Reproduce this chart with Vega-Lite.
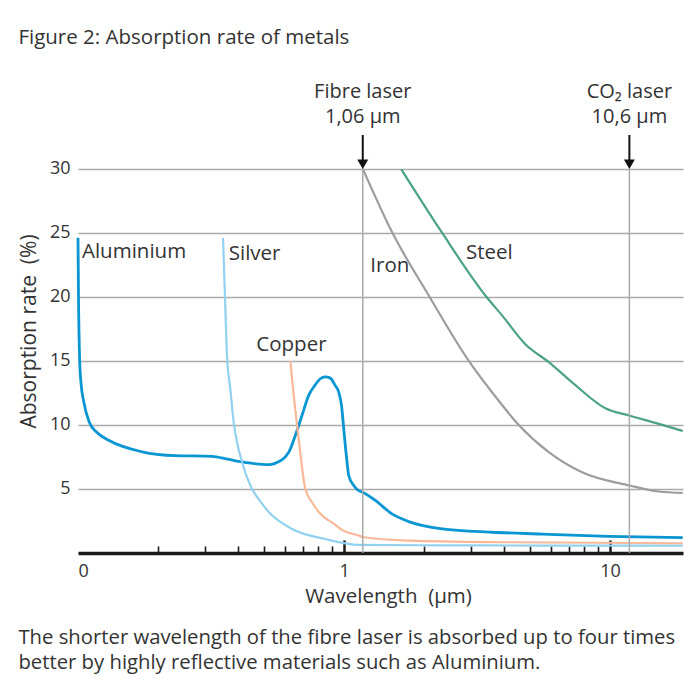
{
  "$schema": "https://vega.github.io/schema/vega-lite/v6.json",
  "background": "white",
  "padding": {"left": 18, "top": 27, "right": 5, "bottom": 5},
  "title": {"text": "Figure 2: Absorption rate of metals", "anchor": "start", "fontSize": 20.5, "fontWeight": "normal", "font": "Open Sans", "color": "#333333", "offset": 31},
  "datasets": {
    "curves": [
      {"series": "Aluminium", "lambda": 0.1, "value": 24.6},
      {"series": "Aluminium", "lambda": 0.10043, "value": 20.0},
      {"series": "Aluminium", "lambda": 0.1015, "value": 14.9},
      {"series": "Aluminium", "lambda": 0.1026, "value": 13.3},
      {"series": "Aluminium", "lambda": 0.1051, "value": 11.8},
      {"series": "Aluminium", "lambda": 0.1103, "value": 10.2},
      {"series": "Aluminium", "lambda": 0.1179, "value": 9.4},
      {"series": "Aluminium", "lambda": 0.1304, "value": 8.8},
      {"series": "Aluminium", "lambda": 0.174, "value": 7.9},
      {"series": "Aluminium", "lambda": 0.2321, "value": 7.6},
      {"series": "Aluminium", "lambda": 0.319, "value": 7.55},
      {"series": "Aluminium", "lambda": 0.3686, "value": 7.3},
      {"series": "Aluminium", "lambda": 0.4383, "value": 7.03},
      {"series": "Aluminium", "lambda": 0.521, "value": 6.9},
      {"series": "Aluminium", "lambda": 0.5502, "value": 7.0},
      {"series": "Aluminium", "lambda": 0.6197, "value": 7.87},
      {"series": "Aluminium", "lambda": 0.656, "value": 9.17},
      {"series": "Aluminium", "lambda": 0.6952, "value": 10.75},
      {"series": "Aluminium", "lambda": 0.7366, "value": 12.3},
      {"series": "Aluminium", "lambda": 0.7779, "value": 13.1},
      {"series": "Aluminium", "lambda": 0.8144, "value": 13.6},
      {"series": "Aluminium", "lambda": 0.8483, "value": 13.75},
      {"series": "Aluminium", "lambda": 0.8881, "value": 13.65},
      {"series": "Aluminium", "lambda": 0.9251, "value": 13.1},
      {"series": "Aluminium", "lambda": 0.9552, "value": 12.55},
      {"series": "Aluminium", "lambda": 0.9786, "value": 11.5},
      {"series": "Aluminium", "lambda": 0.9974, "value": 9.7},
      {"series": "Aluminium", "lambda": 1.0131, "value": 8.2},
      {"series": "Aluminium", "lambda": 1.0263, "value": 7.1},
      {"series": "Aluminium", "lambda": 1.0415, "value": 6.05},
      {"series": "Aluminium", "lambda": 1.0876, "value": 5.27},
      {"series": "Aluminium", "lambda": 1.1288, "value": 4.9},
      {"series": "Aluminium", "lambda": 1.1757, "value": 4.74},
      {"series": "Aluminium", "lambda": 1.3113, "value": 4.1},
      {"series": "Aluminium", "lambda": 1.5149, "value": 3.05},
      {"series": "Aluminium", "lambda": 1.7509, "value": 2.45},
      {"series": "Aluminium", "lambda": 2.336, "value": 1.88},
      {"series": "Aluminium", "lambda": 3.6003, "value": 1.62},
      {"series": "Aluminium", "lambda": 5.5525, "value": 1.48},
      {"series": "Aluminium", "lambda": 9.888, "value": 1.3},
      {"series": "Aluminium", "lambda": 18.76, "value": 1.2},
      {"series": "Silver", "lambda": 0.3509, "value": 24.6},
      {"series": "Silver", "lambda": 0.3561, "value": 20.6},
      {"series": "Silver", "lambda": 0.3633, "value": 15.4},
      {"series": "Silver", "lambda": 0.3738, "value": 12.8},
      {"series": "Silver", "lambda": 0.3848, "value": 10.2},
      {"series": "Silver", "lambda": 0.3961, "value": 8.65},
      {"series": "Silver", "lambda": 0.4136, "value": 7.1},
      {"series": "Silver", "lambda": 0.451, "value": 5.0},
      {"series": "Silver", "lambda": 0.4778, "value": 4.2},
      {"series": "Silver", "lambda": 0.521, "value": 3.2},
      {"series": "Silver", "lambda": 0.6374, "value": 1.875},
      {"series": "Silver", "lambda": 0.8505, "value": 1.09},
      {"series": "Silver", "lambda": 1.1356, "value": 0.63},
      {"series": "Silver", "lambda": 2.336, "value": 0.6},
      {"series": "Silver", "lambda": 5.5525, "value": 0.58},
      {"series": "Silver", "lambda": 18.76, "value": 0.58},
      {"series": "Copper", "lambda": 0.6283, "value": 15.0},
      {"series": "Copper", "lambda": 0.647, "value": 12.3},
      {"series": "Copper", "lambda": 0.6755, "value": 8.9},
      {"series": "Copper", "lambda": 0.7154, "value": 5.0},
      {"series": "Copper", "lambda": 0.758, "value": 3.96},
      {"series": "Copper", "lambda": 0.8034, "value": 3.2},
      {"series": "Copper", "lambda": 0.9275, "value": 2.2},
      {"series": "Copper", "lambda": 0.9828, "value": 1.8},
      {"series": "Copper", "lambda": 1.1356, "value": 1.36},
      {"series": "Copper", "lambda": 1.1757, "value": 1.25},
      {"series": "Copper", "lambda": 1.7509, "value": 0.97},
      {"series": "Copper", "lambda": 4.1609, "value": 0.84},
      {"series": "Copper", "lambda": 18.76, "value": 0.76},
      {"series": "Iron", "lambda": 1.1757, "value": 30.0},
      {"series": "Iron", "lambda": 1.5149, "value": 25.05},
      {"series": "Iron", "lambda": 2.0817, "value": 20.1},
      {"series": "Iron", "lambda": 2.9428, "value": 15.0},
      {"series": "Iron", "lambda": 3.6003, "value": 12.55},
      {"series": "Iron", "lambda": 4.5362, "value": 10.0},
      {"series": "Iron", "lambda": 5.8838, "value": 7.87},
      {"series": "Iron", "lambda": 7.8476, "value": 6.3},
      {"series": "Iron", "lambda": 11.818, "value": 5.27},
      {"series": "Iron", "lambda": 15.246, "value": 4.8},
      {"series": "Iron", "lambda": 18.76, "value": 4.69},
      {"series": "Steel", "lambda": 1.6421, "value": 29.95},
      {"series": "Steel", "lambda": 2.336, "value": 25.0},
      {"series": "Steel", "lambda": 3.3978, "value": 20.1},
      {"series": "Steel", "lambda": 3.9264, "value": 18.55},
      {"series": "Steel", "lambda": 4.8031, "value": 16.3},
      {"series": "Steel", "lambda": 5.8838, "value": 14.9},
      {"series": "Steel", "lambda": 7.4051, "value": 13.1},
      {"series": "Steel", "lambda": 9.6015, "value": 11.3},
      {"series": "Steel", "lambda": 11.818, "value": 10.73},
      {"series": "Steel", "lambda": 15.246, "value": 10.08},
      {"series": "Steel", "lambda": 18.76, "value": 9.53}
    ],
    "labels": [
      {"label": "Aluminium", "lambda": 0.1035, "value": 23.49},
      {"label": "Silver", "lambda": 0.3686, "value": 23.36},
      {"label": "Copper", "lambda": 0.4681, "value": 16.25},
      {"label": "Iron", "lambda": 1.2559, "value": 22.4},
      {"label": "Steel", "lambda": 2.8747, "value": 23.44}
    ],
    "lasers": [
      {"name": "Fibre laser", "sub": "1,06 µm", "lambda": 1.176},
      {"name": "CO₂ laser", "sub": "10,6 µm", "lambda": 11.82}
    ]
  },
  "vconcat": [
    {
      "width": 605,
      "height": 474,
      "title": {
        "text": ["The shorter wavelength of the fibre laser is absorbed up to four times", "better by highly reflective materials such as Aluminium."],
        "orient": "bottom", "anchor": "start", "fontSize": 20.3, "fontWeight": "normal",
        "font": "Open Sans", "color": "#333333", "lineHeight": 25.5, "offset": 21
      },
      "layer": [
        {
          "data": {"name": "curves"},
          "mark": {"type": "line", "interpolate": "monotone"},
          "encoding": {
            "x": {
              "field": "lambda", "type": "quantitative",
              "scale": {"type": "log", "domain": [0.1, 18.8], "nice": false},
              "axis": {
                "values": [0.1, 0.2, 0.3, 0.4, 0.5, 0.6, 0.7, 0.8, 0.9, 1, 2, 3, 4, 5, 6, 7, 8, 9, 10],
                "labelExpr": "datum.value == 0.1 ? '0' : (datum.value == 1 ? '1' : (datum.value == 10 ? '10' : ''))",
                "labelAlign": {"condition": {"test": "datum.value == 0.1", "value": "left"}, "value": "center"},
                "tickSize": {"condition": {"test": "datum.value == 0.1 || datum.value == 1 || datum.value == 10", "value": -13}, "value": -7},
                "tickWidth": {"condition": {"test": "datum.value == 1 || datum.value == 10", "value": 2.5}, "value": 1.6},
                "tickOpacity": {"condition": {"test": "datum.value == 0.1", "value": 0}, "value": 1},
                "tickColor": "#1a1a1a",
                "domainColor": "#1a1a1a",
                "domainWidth": 3.5,
                "grid": false,
                "labelFontSize": 18,
                "labelPadding": 22,
                "labelColor": "#333333",
                "labelFlush": false,
                "labelOverlap": false,
                "title": "Wavelength \u00a0(µm)",
                "titleFontSize": 20.5,
                "titleFontWeight": "normal",
                "titleColor": "#333333",
                "titlePadding": 0,
                "titleX": 310
              }
            },
            "y": {
              "field": "value", "type": "quantitative",
              "scale": {"domain": [0, 37], "nice": false, "zero": true},
              "axis": {
                "values": [5, 10, 15, 20, 25, 30],
                "grid": true,
                "gridColor": "#aaaaaa",
                "gridWidth": 1.5,
                "domain": false,
                "ticks": false,
                "labelFontSize": 18,
                "labelPadding": 8,
                "labelColor": "#333333",
                "title": "Absorption rate \u00a0(%)",
                "titleFontSize": 21,
                "titleFontWeight": "normal",
                "titleColor": "#333333",
                "titlePadding": 10,
                "titleY": 252
              }
            },
            "color": {
              "field": "series", "type": "nominal",
              "scale": {"domain": ["Silver", "Copper", "Iron", "Steel", "Aluminium"], "range": ["#92d1ef", "#f8b998", "#9d9d9d", "#4ba383", "#0a96d2"]},
              "legend": null
            },
            "strokeWidth": {"condition": {"test": "datum.series === 'Aluminium'", "value": 2.8}, "value": 2.2}
          }
        },
        {
          "data": {"name": "lasers"},
          "mark": {"type": "rule", "color": "#aaaaaa", "strokeWidth": 1.5},
          "encoding": {
            "x": {"field": "lambda", "type": "quantitative"},
            "y": {"datum": 0},
            "y2": {"datum": 30}
          }
        },
        {
          "data": {"name": "labels"},
          "mark": {"type": "text", "align": "left", "baseline": "middle", "fontSize": 20.5, "font": "Open Sans", "color": "#333333"},
          "encoding": {
            "x": {"field": "lambda", "type": "quantitative"},
            "y": {"field": "value", "type": "quantitative"},
            "text": {"field": "label"}
          }
        },
        {
          "data": {"name": "lasers"},
          "mark": {"type": "text", "align": "center", "baseline": "middle", "fontSize": 20, "font": "Open Sans", "color": "#333333"},
          "encoding": {
            "x": {"field": "lambda", "type": "quantitative"},
            "y": {"datum": 36},
            "text": {"field": "name"}
          }
        },
        {
          "data": {"name": "lasers"},
          "mark": {"type": "text", "align": "center", "baseline": "middle", "fontSize": 20, "font": "Open Sans", "color": "#333333"},
          "encoding": {
            "x": {"field": "lambda", "type": "quantitative"},
            "y": {"datum": 34.04},
            "text": {"field": "sub"}
          }
        },
        {
          "data": {"name": "lasers"},
          "mark": {"type": "rule", "color": "#111111", "strokeWidth": 2},
          "encoding": {
            "x": {"field": "lambda", "type": "quantitative"},
            "y": {"datum": 32.63},
            "y2": {"datum": 30.67}
          }
        },
        {
          "data": {"name": "lasers"},
          "mark": {"type": "point", "shape": "triangle-down", "filled": true, "size": 121, "color": "#111111", "opacity": 1},
          "encoding": {
            "x": {"field": "lambda", "type": "quantitative"},
            "y": {"datum": 30.35}
          }
        }
      ]
    }
  ],
  "config": {
    "view": {"stroke": null},
    "font": "Open Sans",
    "axis": {"labelFont": "Open Sans", "titleFont": "Open Sans"}
  }
}
